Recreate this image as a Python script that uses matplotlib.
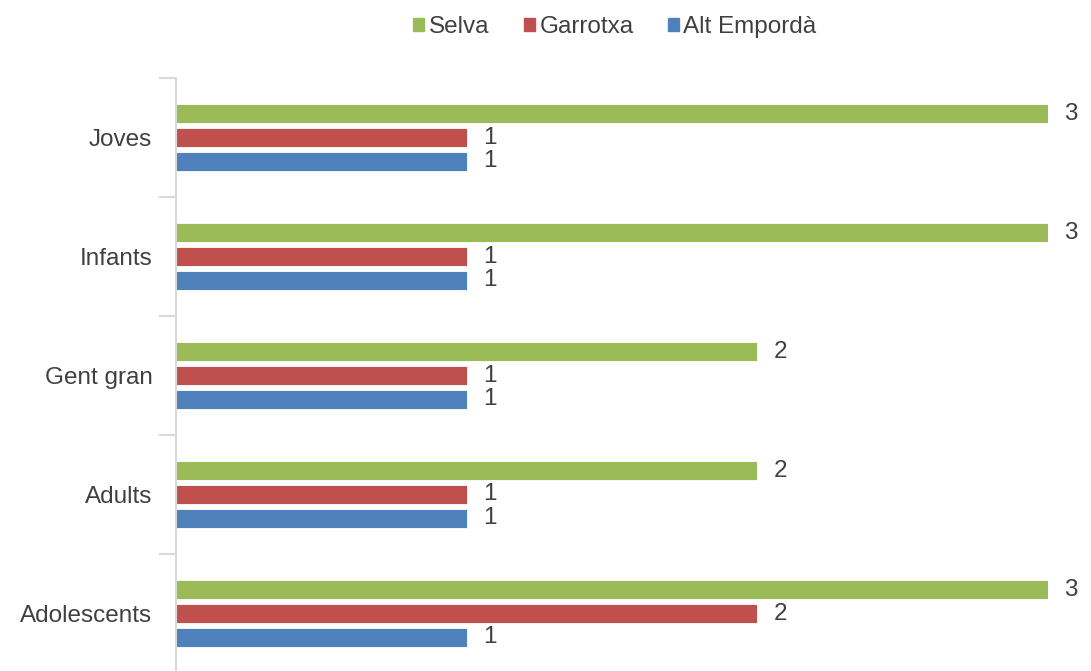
import matplotlib.pyplot as plt
from matplotlib.patches import Patch

categories = ['Adolescents', 'Adults', 'Gent gran', 'Infants', 'Joves']
selva = [3, 2, 2, 3, 3]
garrotxa = [2, 1, 1, 1, 1]
alt_emporda = [1, 1, 1, 1, 1]

series = [('Selva', selva, '#9BBB59'),
          ('Garrotxa', garrotxa, '#C0504D'),
          ('Alt Empordà', alt_emporda, '#4F81BD')]

plt.rcParams['font.family'] = ['Liberation Sans', 'DejaVu Sans']
W, H = 1091, 671
fig = plt.figure(figsize=(W / 100, H / 100), dpi=100)
# axes placed in pixels: x from 176 to 1048 (0..3), y from 673 to 78 (-0.5..4.5)
ax = fig.add_axes([176 / W, (H - 673) / H, 872 / W, 595 / H])

bh = 0.16
step = 0.2
txt = '#404040'
fs = 17.5
for i, (name, vals, col) in enumerate(series):
    ys = [k + step * (1 - i) for k in range(len(categories))]
    ax.barh(ys, vals, height=bh, color=col, edgecolor='white', linewidth=0.6, label=name)
    for y, v in zip(ys, vals):
        ax.text(v + 0.055, y, str(v), va='center', ha='left', fontsize=fs, color=txt)

ax.set_xlim(0, 3)
ax.set_ylim(-0.5, 4.5)
ax.set_xticks([])
ax.set_yticks(range(len(categories)))
ax.set_yticklabels(categories, fontsize=fs, color=txt)
ax.tick_params(axis='y', which='major', length=0, pad=17)
ax.set_yticks([k - 0.5 for k in range(len(categories) + 1)], minor=True)
ax.tick_params(axis='y', which='minor', length=12, color='#d9d9d9', width=1.5)
for s in ['top', 'right', 'bottom']:
    ax.spines[s].set_visible(False)
ax.spines['left'].set_color('#d9d9d9')
ax.spines['left'].set_linewidth(1.5)

handles = [Patch(color=c, label=n) for n, _, c in series]
fig.legend(handles=handles, loc='center', bbox_to_anchor=(615 / W, 1 - 27 / H),
           ncol=3, frameon=False, fontsize=fs, handlelength=0.45, handleheight=0.45,
           handletextpad=0.2, columnspacing=1.4, labelcolor=txt)

fig.savefig('out.png', dpi=100)
